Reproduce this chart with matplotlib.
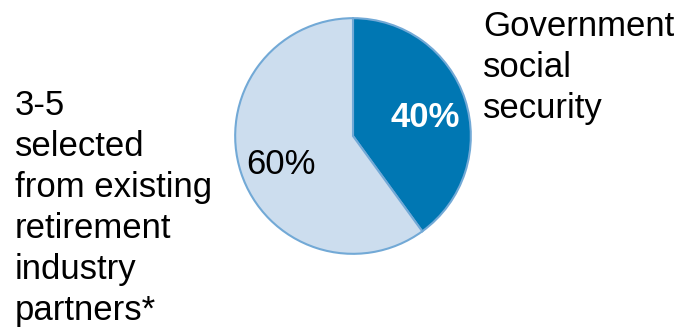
import matplotlib
matplotlib.use("Agg")
import matplotlib.pyplot as plt
import numpy as np

categories = ["Government\nsocial\nsecurity", "3-5\nselected\nfrom existing\nretirement\nindustry\npartners*"]
values = [40, 60]
colors = ["#0077B3", "#CCDDEE"]

plt.rcParams['font.family'] = ['Liberation Sans', 'DejaVu Sans']
fig = plt.figure(figsize=(6.79, 3.32), dpi=100)
W, H = 679, 332
cx, cy, r = 353, 136, 119
ax = fig.add_axes([(cx - r) / W, (H - cy - r) / H, 2 * r / W, 2 * r / H])
wedges, texts = ax.pie(values, colors=colors, startangle=90, counterclock=False,
                       wedgeprops=dict(edgecolor="#72A9D6", linewidth=1.5))
ax.set_xlim(-1.01, 1.01)
ax.set_ylim(-1.01, 1.01)
ax.set_aspect('equal')
for i, (w, v) in enumerate(zip(wedges, values)):
    ang = np.deg2rad((w.theta1 + w.theta2) / 2)
    d = 0.645
    x, y = d * np.cos(ang), d * np.sin(ang) - 0.04
    if i == 0:
        ax.text(x, y, f"{v}%", ha='center', va='center',
                color='white', fontsize=25, fontweight='bold')
    else:
        ax.text(x, y, f"{v}%", ha='center', va='center',
                color='black', fontsize=25)

fig.text(483 / W, 1 - 10 / H, categories[0], ha='left', va='top', fontsize=25, linespacing=1.31)
fig.text(15 / W, 1 - 89 / H, categories[1], ha='left', va='top', fontsize=25, linespacing=1.31)

fig.savefig("out.png", dpi=100)
